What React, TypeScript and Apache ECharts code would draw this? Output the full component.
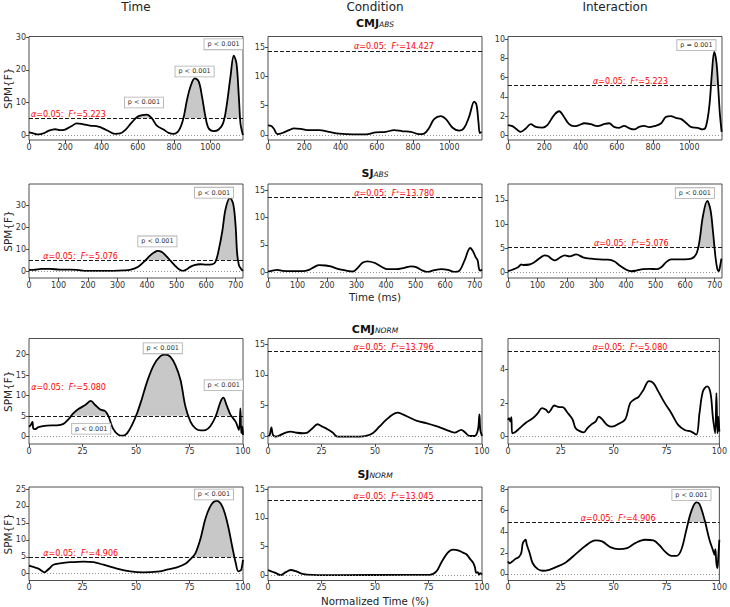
import React, { useEffect, useRef } from 'react';
import * as echarts from 'echarts';

// ---------- data ----------
const cmjAbsTime = [[0,0.8],[24,0.5],[52,0.2],[79,0.5],[107,1.3],[144,1.8],[171,1.5],[199,1.7],[236,2.8],[263,3.6],[300,3.3],[337,2.9],[383,2.6],[429,1.5],[475,0.4],[503,0.5],[530,1.5],[567,3.9],[604,5.8],[650,6.3],[678,5.1],[705,2.9],[742,1.7],[770,0.7],[798,0.4],[825,1.3],[849,4.6],[871,10.7],[890,14.8],[914,17.4],[936,16.4],[954,11.8],[973,5.6],[991,2.0],[1019,1.2],[1046,1.7],[1070,3.6],[1089,8.7],[1111,17.9],[1129,24.3],[1144,22],[1157,11.8],[1166,3.6],[1175,1.0],[1180,0]];
const cmjAbsCond = [[0,1.6],[18,1.5],[33,1.0],[52,0.1],[79,0.3],[116,0.8],[144,1.1],[180,1.0],[217,0.8],[282,0.8],[337,0.5],[392,0.2],[466,0.06],[539,0.06],[594,0.4],[650,0.5],[695,0.8],[742,0.6],[788,0.5],[834,0.1],[861,0.2],[889,1.2],[916,2.7],[953,3.2],[981,2.7],[1018,1.2],[1054,0.7],[1082,1.2],[1110,3.2],[1137,5.7],[1150,5.1],[1161,2.0],[1168,0.3],[1178,0.5]];
const cmjAbsInter = [[0,1.05],[24,0.95],[42,0.7],[70,0.35],[98,0.7],[125,1.15],[153,0.87],[190,0.8],[217,1.05],[254,2.1],[282,2.5],[309,1.9],[337,1.15],[364,0.94],[392,1.05],[420,1.25],[456,1.15],[493,0.94],[530,1.15],[558,1.25],[585,0.87],[613,0.77],[640,0.98],[668,0.73],[696,0.6],[723,0.87],[751,0.98],[778,0.84],[806,0.94],[843,1.22],[870,1.9],[898,2.0],[925,1.8],[953,1.7],[981,1.3],[1008,0.87],[1045,0.77],[1073,0.6],[1091,0.87],[1110,3.0],[1124,6.4],[1137,8.7],[1150,7.5],[1161,4.4],[1168,2.3],[1178,0.35]];
const sjAbsTime = [[0,0.76],[15,0.76],[43,1.2],[71,1.2],[105,0.9],[139,0.9],[162,0.76],[196,0.3],[241,0.3],[287,0.3],[320,0.5],[345,0.9],[370,2.2],[390,4.5],[410,7.2],[425,8.7],[436,9.3],[450,8.8],[465,7.0],[480,4.8],[495,2.6],[508,1.0],[520,0.3],[532,0.8],[545,2.0],[560,2.9],[580,3.3],[600,3.1],[620,3.2],[632,4.5],[643,9.9],[655,18.3],[666,28.2],[681,33.2],[692,30.4],[700,20.5],[705,8.4],[711,3.0],[719,1.1],[725,0.3]];
const sjAbsCond = [[0,0.12],[15,0.3],[32,0.43],[49,0.25],[83,0.2],[117,0.2],[139,0.43],[156,0.93],[173,1.3],[196,1.23],[213,1.05],[236,0.62],[264,0.3],[287,0.12],[304,0.8],[320,1.73],[337,2.0],[360,1.73],[383,1.05],[405,0.55],[434,0.55],[462,0.8],[485,1.05],[502,0.93],[524,0.3],[541,0.06],[564,0.37],[587,0.55],[609,0.43],[632,0.06],[649,0.3],[666,2.16],[685,4.44],[694,3.9],[703,2.8],[710,2.2],[715,0.6],[719,0.3],[725,0.5]];
const sjAbsInter = [[0,0.2],[17,0.56],[34,1.05],[45,1.6],[51,1.5],[73,1.6],[90,2.1],[107,2.9],[124,3.5],[135,3.35],[147,2.8],[158,2.44],[175,3.0],[192,3.5],[209,3.3],[231,3.7],[254,3.1],[282,2.8],[310,2.65],[339,2.6],[361,2.23],[378,1.4],[401,0.5],[418,0.2],[435,0.35],[457,0.63],[480,0.7],[502,0.63],[519,1.05],[536,2.1],[553,2.65],[576,2.65],[598,2.65],[621,2.8],[638,3.8],[649,6.6],[660,11.5],[675,14.8],[686,12.9],[694,8.7],[703,3.1],[709,0.7],[714,0.2],[719,1.4],[723,2.8]];
const cmjNormTime = [[0,2.4],[0.8,2.8],[1.6,3.6],[2.0,2.0],[2.8,1.8],[4.4,2.3],[8.3,2.7],[13,2.75],[16.1,3.1],[18.4,4.2],[20.8,5.7],[23.1,6.7],[26.3,7.7],[28.9,8.7],[30.9,7.7],[33.3,6.6],[35.6,6.2],[37.2,4.9],[39.2,2.0],[41.9,0.4],[43.9,0.24],[45.8,0.8],[48.1,2.8],[50.5,5.7],[52.8,9.3],[55.2,13.4],[58.3,17.4],[61.4,19.6],[63.8,20.0],[66.1,19.4],[68.4,17.4],[70.8,13.8],[73.1,7.3],[75.5,3.6],[77.8,2.0],[80.2,1.5],[82.5,1.6],[84.8,2.6],[87.2,4.9],[89.5,8.5],[90.8,9.5],[92.3,7.7],[94.2,5.3],[96.6,3.6],[98.1,1.6],[98.8,6.9],[99.2,0.8],[99.7,2.4],[100,0.4]];
const cmjNormCond = [[0,0],[0.8,0.27],[1.6,1.5],[2.3,0.27],[3.6,0],[5.9,0.27],[8.3,0.65],[10.6,0.8],[13,0.65],[16.1,0.54],[18.4,0.65],[20.8,1.35],[23.1,2.0],[25.5,1.6],[27.8,1.2],[30.2,0.65],[32.5,0],[38,0],[42.7,0],[45.8,0.1],[48.9,0.54],[52,1.6],[55.2,2.7],[58.3,3.6],[60.6,3.9],[63,3.6],[66.1,3.1],[70,2.5],[73.9,2.2],[78.6,1.7],[83.3,1.1],[87.2,0.65],[90.3,1.1],[91.9,0.75],[94.2,0.1],[96.6,0.1],[98.1,1.1],[98.8,3.6],[99.2,1.1],[100,0.1]];
const cmjNormInter = [[0,1.0],[0.5,1.1],[1.1,0.9],[1.6,1.16],[2.0,0.2],[3.1,0.24],[5.5,0.5],[8.6,0.84],[11.7,1.1],[14.1,1.4],[16.1,1.7],[18,1.6],[19.2,1.44],[20.3,1.6],[21.9,1.86],[24.2,1.76],[25.8,1.76],[28.1,1.44],[30.5,1.04],[32,0.5],[34.4,0.3],[35.9,0.26],[37.5,0.5],[39.8,0.76],[41.4,0.9],[43,1.2],[44.5,1.04],[46.9,0.7],[49.2,0.6],[52.3,0.76],[55.5,1.04],[57.8,2.0],[60.2,2.26],[61.7,2.36],[64.1,2.8],[66.7,3.32],[68.8,3.2],[71.1,2.7],[74.2,2.0],[77.3,1.4],[80.5,0.7],[83.6,0.4],[86.7,0.3],[89.1,0.12],[90.6,1.4],[92.2,2.7],[94.2,3.0],[95.8,2.6],[96.9,1.2],[98,0.2],[98.6,2.6],[99.1,0.2],[99.5,1.2],[100,0.3]];
const sjNormTime = [[0,2.36],[2,2.0],[4.4,1.5],[5.9,0.9],[7.2,0.4],[8.3,0.9],[9.8,1.7],[11.4,2.66],[14.5,3.05],[19.2,3.4],[25.5,3.6],[30.2,3.4],[34.8,2.66],[41.1,1.5],[47.3,0.7],[53.6,0.4],[59.8,0.6],[64.5,1.2],[69.2,1.9],[73.1,2.95],[75.5,4.3],[77.8,6.1],[80.2,10.5],[82.5,16.4],[85.2,20.4],[87.7,21.5],[90.3,19.9],[92.7,15.0],[95,7.9],[96.6,3.15],[97.8,0.7],[98.6,0.9],[99.2,1.2],[100,4.1]];
const sjNormCond = [[0,0.9],[2,0.6],[4.4,0.24],[5.9,0],[8.3,0.53],[10.6,0.9],[13,0.7],[16.1,0.24],[20.8,0.06],[33.3,0],[64.5,0.06],[75.5,0.06],[78.6,0.6],[81,2.2],[84,3.94],[86.4,4.47],[88.8,4.35],[91.1,3.94],[92.7,3.65],[94.2,2.94],[95.8,2.2],[96.7,1.4],[97.3,0.4],[98,0.53],[98.6,0.12],[99.2,0.35],[100,0.12]];
const sjNormInter = [[0,1.17],[0.8,1.0],[2,1.17],[3.6,1.43],[5.2,1.6],[6.3,2.0],[7,2.9],[8.3,3.24],[8.9,2.76],[10.2,2.0],[11.7,1.0],[14.1,0.44],[16.4,0.29],[19.5,0.38],[22.7,0.63],[27.3,1.08],[32,1.87],[36.7,2.67],[41.4,3.17],[44.5,3.08],[48.4,2.54],[52.3,2.35],[56.3,2.44],[60.2,2.92],[64.8,3.24],[68.8,3.17],[71.9,2.67],[74.2,2.13],[77.3,1.71],[79.7,1.71],[82,2.29],[84.4,4.19],[86.7,5.94],[89.1,6.8],[90.6,6.63],[93,5.14],[95.3,3.24],[96.9,2.29],[97.7,1.81],[98.1,2.35],[98.6,1.0],[99.1,0.54],[99.5,1.65],[100,3.24]];

const curves = [
  [cmjAbsTime, cmjAbsCond, cmjAbsInter],
  [sjAbsTime, sjAbsCond, sjAbsInter],
  [cmjNormTime, cmjNormCond, cmjNormInter],
  [sjNormTime, sjNormCond, sjNormInter],
];
const thresholds = [
  [5.223, 14.427, 5.223],
  [5.076, 13.78, 5.076],
  [5.08, 13.796, 5.08],
  [4.906, 13.045, 4.906],
];
const colTitles = ['Time', 'Condition', 'Interaction'];
const rowTitles = [['CMJ', 'ABS'], ['SJ', 'ABS'], ['CMJ', 'NORM'], ['SJ', 'NORM']];
const xMaxByRow = [1180, 725, 100, 100];
const xTicksCmjAbs = [0, 200, 400, 600, 800, 1000];
const xTicksSjAbs = [0, 100, 200, 300, 400, 500, 600, 700];
const xTicksNorm = [0, 25, 50, 75, 100];
const xTicksByRow = [xTicksCmjAbs, xTicksSjAbs, xTicksNorm, xTicksNorm];
const yTicks = [
  [[0, 10, 20, 30], [0, 5, 10, 15], [0, 2, 4, 6, 8, 10]],
  [[0, 10, 20, 30], [0, 5, 10, 15], [0, 5, 10, 15]],
  [[0, 5, 10, 15, 20], [0, 5, 10, 15], [0, 2, 4]],
  [[0, 5, 10, 15, 20, 25], [0, 5, 10, 15], [0, 2, 4, 6, 8]],
];
const yRanges = [
  [[-1.5, 30.2], [-0.9, 16.9], [-0.5, 10.3]],
  [[-2.9, 39.5], [-1.07, 16.2], [-1.2, 18.3]],
  [[-1.8, 23.9], [-1.2, 15.9], [-0.44, 5.86]],
  [[-2.0, 25.6], [-0.93, 15.4], [-0.64, 8.26]],
];
// threshold label anchor (data x, optional data y)
const thrLabelAt = [
  [[11, null], [474, null], [469, null]],
  [[48, null], [292, null], [291, null]],
  [[1, 11], [40, null], [40, null]],
  [[6.7, null], [40, null], [34.4, null]],
];
// p-value boxes: [row, col, x, y, text]
const pBoxes: [number, number, number, number, string][] = [
  [0, 0, 634, 10.0, 'p < 0.001'],
  [0, 0, 913, 19.5, 'p < 0.001'],
  [0, 0, 1073, 27.8, 'p < 0.001'],
  [0, 2, 1039, 9.4, 'p = 0.001'],
  [1, 0, 435, 13.6, 'p < 0.001'],
  [1, 0, 627, 35.6, 'p < 0.001'],
  [1, 2, 633, 16.4, 'p < 0.001'],
  [2, 0, 62.5, 21.5, 'p < 0.001'],
  [2, 0, 91, 12.5, 'p < 0.001'],
  [2, 0, 29.1, 1.9, 'p < 0.001'],
  [3, 0, 86.4, 23.4, 'p < 0.001'],
  [3, 2, 86.8, 7.5, 'p < 0.001'],
];

// ---------- layout ----------
const FONT = 'DejaVu Sans';
const GRID_TOPS = [36.5, 184, 338.5, 487];
const GRID_HEIGHTS = [103.5, 94, 105.5, 93.5];
const COL_LEFTS = [29, 268, 508];
const GRID_W = 214;
const ROW_TITLE_Y = [23.3, 173.3, 329, 474];

export default function App() {
  const ref = useRef<HTMLDivElement>(null);
  useEffect(() => {
    document.body.style.margin = '0';
    const chart = echarts.init(ref.current!, null, { renderer: 'svg' });
    const grid: any[] = [];
    const xAxis: any[] = [];
    const yAxis: any[] = [];
    const series: any[] = [];
    const fmt = (v: number) => String(v);
    for (let r = 0; r < 4; r++) {
      for (let c = 0; c < 3; c++) {
        const idx = r * 3 + c;
        const data = curves[r][c];
        const thr = thresholds[r][c];
        grid.push({
          left: COL_LEFTS[c], top: GRID_TOPS[r], width: GRID_W, height: GRID_HEIGHTS[r],
          show: true, borderColor: '#222', borderWidth: 0.8, backgroundColor: 'transparent',
        });
        xAxis.push({
          gridIndex: idx, type: 'value', min: 0, max: xMaxByRow[r],
          axisLine: { show: false, onZero: false },
          axisTick: { show: true, length: 3, lineStyle: { color: '#222', width: 0.8 }, customValues: xTicksByRow[r] },
          axisLabel: { customValues: xTicksByRow[r], formatter: fmt, fontSize: 8, color: '#333', margin: 3, fontFamily: FONT },
          splitLine: { show: false },
        });
        yAxis.push({
          gridIndex: idx, type: 'value', min: yRanges[r][c][0], max: yRanges[r][c][1],
          axisLine: { show: false, onZero: false },
          axisTick: { show: true, length: 3, lineStyle: { color: '#222', width: 0.8 }, customValues: yTicks[r][c] },
          axisLabel: { customValues: yTicks[r][c], formatter: fmt, fontSize: 8, color: '#333', margin: 3, fontFamily: FONT },
          splitLine: { show: false },
        });
        // supra-threshold fill: area between threshold and the curve where it exceeds it
        series.push({
          type: 'line', xAxisIndex: idx, yAxisIndex: idx, silent: true,
          data: data.map(([x, y]) => [x, Math.max(y, thr)]), symbol: 'none', smooth: 0.35,
          lineStyle: { width: 0, opacity: 0 },
          areaStyle: { color: '#c8c8c8', opacity: 1, origin: thr },
        });
        const [lx, ly] = thrLabelAt[r][c];
        const mp: any[] = [
          {
            coord: [lx, ly == null ? thr : ly], symbolSize: 0,
            label: {
              show: true, position: 'insideBottomLeft', distance: 0,
              formatter: '{i|α}=0.05:  {i|F}{s|*}=' + thr.toFixed(3),
              color: '#ff0000', fontSize: 8, fontFamily: FONT,
              rich: {
                i: { fontStyle: 'italic', color: '#ff0000', fontSize: 8, fontFamily: FONT },
                s: { color: '#ff0000', fontSize: 6, fontFamily: FONT, verticalAlign: 'top' },
              },
            },
          },
        ];
        pBoxes.filter((b) => b[0] === r && b[1] === c).forEach((b) => {
          mp.push({
            coord: [b[2], b[3]], symbolSize: 0,
            label: {
              show: true, position: 'inside', formatter: b[4], fontSize: 6.5, color: '#333', fontFamily: FONT,
              backgroundColor: '#fff', borderColor: '#aaa', borderWidth: 0.8, padding: [2, 3, 1, 3],
            },
          });
        });
        series.push({
          type: 'line', xAxisIndex: idx, yAxisIndex: idx, silent: true,
          data, symbol: 'none', smooth: 0.35,
          lineStyle: { color: '#000', width: 1.8 },
          z: 3,
          markLine: {
            silent: true, symbol: ['none', 'none'], label: { show: false },
            data: [
              { yAxis: thr, lineStyle: { color: '#000', width: 0.9, type: [4, 2] } },
              { yAxis: 0, lineStyle: { color: '#888', width: 0.9, type: [1, 2] } },
            ],
          },
          markPoint: { silent: true, symbol: 'circle', symbolSize: 0, data: mp },
        });
      }
    }
    const graphic: any[] = [];
    colTitles.forEach((t, c) => {
      graphic.push({
        type: 'text', x: COL_LEFTS[c] + GRID_W / 2, y: 7,
        style: { text: t, fontSize: 12, fontFamily: FONT, fill: '#222', align: 'center', verticalAlign: 'middle' },
      });
    });
    rowTitles.forEach((rt, r) => {
      graphic.push({
        type: 'text', x: COL_LEFTS[1] + GRID_W / 2, y: ROW_TITLE_Y[r],
        style: {
          text: '{b|' + rt[0] + '}{s|' + rt[1] + '}', align: 'center', verticalAlign: 'middle',
          rich: {
            b: { fontSize: 11, fontWeight: 'bold', fontFamily: FONT, fill: '#111', verticalAlign: 'bottom' },
            s: { fontSize: 7.5, fontStyle: 'italic', fontFamily: FONT, fill: '#111', verticalAlign: 'bottom' },
          },
        },
      });
      graphic.push({
        type: 'text', x: 8, y: GRID_TOPS[r] + GRID_HEIGHTS[r] / 2, rotation: Math.PI / 2,
        style: { text: 'SPM{F}', fontSize: 10.5, fontFamily: FONT, fill: '#222', align: 'center', verticalAlign: 'middle' },
      });
    });
    graphic.push({
      type: 'text', x: COL_LEFTS[1] + GRID_W / 2, y: 297,
      style: { text: 'Time (ms)', fontSize: 10.3, fontFamily: FONT, fill: '#222', align: 'center', verticalAlign: 'middle' },
    });
    graphic.push({
      type: 'text', x: COL_LEFTS[1] + GRID_W / 2, y: 601,
      style: { text: 'Normalized Time (%)', fontSize: 10.3, fontFamily: FONT, fill: '#222', align: 'center', verticalAlign: 'middle' },
    });
    chart.setOption({
      animation: false,
      backgroundColor: '#fff',
      textStyle: { fontFamily: FONT },
      grid, xAxis, yAxis, series, graphic,
    });
    return () => chart.dispose();
  }, []);
  return <div ref={ref} style={{ width: 730, height: 607 }} />;
}
